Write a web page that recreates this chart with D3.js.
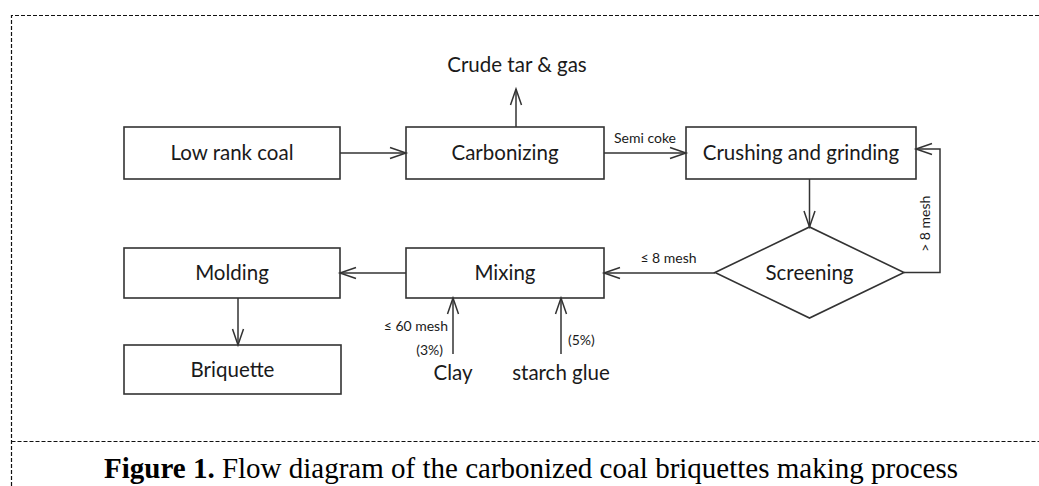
<!DOCTYPE html>
<html>
<head>
<meta charset="utf-8">
<script src="https://cdn.jsdelivr.net/npm/d3@7"></script>
<style>
  body { margin: 0; background: #fff; }
</style>
</head>
<body>
<div id="chart"></div>
<script>
// process steps and the flow between them
const steps = ["Low rank coal", "Carbonizing", "Crushing and grinding", "Screening", "Mixing", "Molding", "Briquette"];
const stepShapes = ["box", "box", "box", "diamond", "box", "box", "box"];
const flowFrom = ["Low rank coal", "Carbonizing", "Crushing and grinding", "Screening", "Screening", "Mixing", "Molding"];
const flowTo = ["Carbonizing", "Crushing and grinding", "Screening", "Mixing", "Crushing and grinding", "Molding", "Briquette"];
const flowLabels = ["", "Semi coke", "", "≤ 8 mesh", "> 8 mesh", "", ""];
// side streams
const byproducts = ["Crude tar & gas"];
const additives = ["Clay", "starch glue"];
const additiveNotes = [["≤ 60 mesh", "(3%)"], ["(5%)"]];
const captionBold = "Figure 1.";
const captionText = " Flow diagram of the carbonized coal briquettes making process";

// ---- layout (pixels) ----
const width = 1039, height = 486;
const geom = {
  "Low rank coal":         { x: 124, y: 127, w: 216, h: 52 },
  "Carbonizing":           { x: 406, y: 127, w: 198, h: 52 },
  "Crushing and grinding": { x: 686, y: 127, w: 230, h: 52 },
  "Screening":             { x: 715, y: 227, w: 189, h: 91 },
  "Mixing":                { x: 406, y: 248, w: 198, h: 50 },
  "Molding":               { x: 124, y: 248, w: 216, h: 50 },
  "Briquette":             { x: 124, y: 345, w: 217, h: 49 }
};
const loopX = 940, loopDy = -4, dropDx = 6;
const lineColor = "#333";
const textColor = "#1a1a1a";
const mainFont = "Lato, 'Open Sans', sans-serif";

const svg = d3.select("#chart").append("svg")
  .attr("width", width).attr("height", height)
  .style("display", "block");

// dashed frame of the figure
svg.append("path")
  .attr("d", `M11.5,${height} V15.5 H${width} M11.5,441.5 H${width}`)
  .attr("fill", "none").attr("stroke", "#111")
  .attr("stroke-width", 1.2).attr("stroke-dasharray", "4,2");

const cx = g => g.x + g.w / 2, cy = g => g.y + g.h / 2;
const line = d3.line();

function arrow(points) {
  svg.append("path").attr("d", line(points))
    .attr("fill", "none").attr("stroke", lineColor).attr("stroke-width", 1.5);
  const [x1, y1] = points[points.length - 2], [x2, y2] = points[points.length - 1];
  const a = Math.atan2(y2 - y1, x2 - x1), L = 16, W = 5.5;
  const p = w => [x2 - L * Math.cos(a) + w * Math.sin(a), y2 - L * Math.sin(a) - w * Math.cos(a)];
  svg.append("path").attr("d", line([p(W), [x2, y2], p(-W)]))
    .attr("fill", "none").attr("stroke", lineColor).attr("stroke-width", 1.5);
}

const bigText = (x, y, t) => svg.append("text")
  .attr("x", x).attr("y", y).attr("text-anchor", "middle")
  .style("font-family", mainFont).style("font-size", "20.5px").attr("fill", textColor)
  .text(t);

const smallText = (x, y, t, anchor, rot) => {
  const el = svg.append("text")
    .attr("text-anchor", anchor || "middle")
    .style("font-family", mainFont).style("font-size", "14px").attr("fill", textColor)
    .text(t);
  if (rot) el.attr("transform", `translate(${x},${y}) rotate(${rot})`);
  else el.attr("x", x).attr("y", y);
};

// nodes
steps.forEach((s, i) => {
  const g = geom[s];
  if (stepShapes[i] === "diamond") {
    svg.append("path")
      .attr("d", line([[g.x, cy(g)], [cx(g), g.y], [g.x + g.w, cy(g)], [cx(g), g.y + g.h]]) + "Z")
      .attr("fill", "#fff").attr("stroke", lineColor).attr("stroke-width", 1.6);
  } else {
    svg.append("rect")
      .attr("x", g.x).attr("y", g.y).attr("width", g.w).attr("height", g.h)
      .attr("fill", "#fff").attr("stroke", lineColor).attr("stroke-width", 1.6);
  }
  bigText(cx(g), cy(g), s).attr("dy", "0.36em");
});

// main flow links
flowFrom.forEach((f, i) => {
  const a = geom[f], b = geom[flowTo[i]];
  let pts;
  if (Math.abs(cy(a) - cy(b)) < 10) {
    const y0 = Math.round(cy(a));
    pts = cx(a) < cx(b) ? [[a.x + a.w, y0], [b.x, y0]] : [[a.x, y0], [b.x + b.w, y0]];
    if (flowLabels[i]) {
      const mid = (pts[0][0] + pts[1][0]) / 2;
      smallText(mid + (cx(a) < cx(b) ? 0 : 9), y0 - 10, flowLabels[i]);
    }
  } else if (cy(b) > cy(a)) {
    const x = flowTo[i] === "Screening" ? cx(b) : cx(a) + dropDx;
    pts = [[x, a.y + a.h], [x, b.y]];
  } else {
    const y0 = cy(a), y1 = cy(b) + loopDy;
    pts = [[a.x + a.w, y0], [loopX, y0], [loopX, y1], [b.x + b.w, y1]];
    smallText(loopX - 10, (y0 + y1) / 2 + 13, flowLabels[i], "middle", -90);
  }
  arrow(pts);
});

// by-product leaving the carbonizer
const carb = geom["Carbonizing"];
arrow([[cx(carb) + 11, carb.y], [cx(carb) + 11, 89]]);
bigText(cx(carb) + 12, 72, byproducts[0]);

// additives entering the mixer
const mix = geom["Mixing"];
const addX = d3.scalePoint().domain(additives).range([mix.x + 47, mix.x + 155]);
additives.forEach((ad, i) => {
  const x = addX(ad);
  arrow([[x, 354], [x, mix.y + mix.h]]);
  bigText(x, 380, ad);
  const notes = additiveNotes[i];
  if (i === 0) {
    smallText(x - 5, 331, notes[0], "end");
    smallText(x - 10, 355, notes[1], "end");
  } else {
    smallText(x + 7, 345, notes[0], "start");
  }
});

// caption
const cap = svg.append("text").attr("x", 531).attr("y", 478)
  .attr("text-anchor", "middle")
  .style("font-family", "'Liberation Serif', 'Times New Roman', serif")
  .style("font-size", "29px").attr("fill", "#000");
cap.append("tspan").style("font-weight", "bold").text(captionBold);
cap.append("tspan").text(captionText);
</script>
</body>
</html>
